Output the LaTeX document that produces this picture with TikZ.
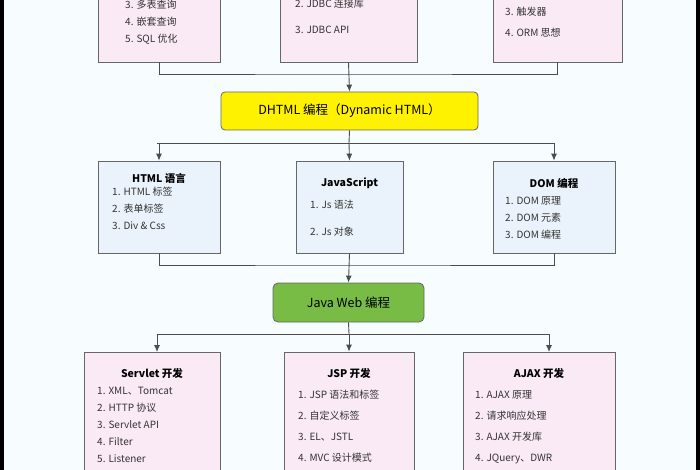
\documentclass[tikz,border=0pt]{standalone}
\usepackage{fontspec}
\setmainfont{Noto Sans CJK SC}
\usetikzlibrary{arrows.meta}
\definecolor{boxpink}{RGB}{250,234,246}
\definecolor{boxblue}{RGB}{234,243,251}
\definecolor{webgreen}{RGB}{120,188,70}
\tikzset{
  pinkbox/.style={rectangle, draw=black!60, fill=boxpink, line width=0.8pt},
  bluebox/.style={rectangle, draw=black!60, fill=boxblue, line width=0.8pt},
  items/.style={anchor=north west, align=left, font=\fontsize{10}{17}\selectfont, text=black!80, inner sep=0pt},
  head/.style={font=\fontsize{10.5}{12}\selectfont\bfseries, inner sep=0pt},
  link/.style={draw=black!70, line width=0.9pt},
  arr/.style={link, -{Latex[length=7pt,width=6pt]}}
}
\begin{document}
\begin{tikzpicture}[x=1pt, y=-1pt]
\useasboundingbox (0,0) rectangle (700,470);
\fill[cyan!3!white] (0,0) rectangle (700,470);
\fill[black] (0,0) rectangle (4,470);
\fill[black] (696,0) rectangle (700,470);
\begin{scope}
\clip (0,0) rectangle (700,470);
% top row
\node (tl)[pinkbox, minimum width=122pt, minimum height=110pt] at (159,7) {};
\node (tm)[pinkbox, minimum width=137pt, minimum height=110pt] at (348.5,7) {};
\node (tr)[pinkbox, minimum width=129pt, minimum height=110pt] at (557.5,7) {};
\node (tlt)[items] at (125,0) {3. 多表查询\\4. 嵌套查询\\5. SQL 优化};
\node (tmt)[items, font=\fontsize{10}{26}\selectfont] at (295,-1) {2. JDBC 连接库\\3. JDBC API};
\node (trt)[items, font=\fontsize{10}{21}\selectfont] at (505,-14) {2. 存储过程\\3. 触发器\\4. ORM 思想};
\coordinate (j1) at (349,74);
\draw[link] (tl.south) |- (j1) -| (tr.south);
\node (dh)[rectangle, rounded corners=4pt, draw=black!60, fill=yellow, line width=0.8pt,
  minimum width=257pt, minimum height=38pt, font=\fontsize{12.5}{14}\selectfont] at (349.5,111) {DHTML 编程（Dynamic HTML）};
\draw[arr] (tm.south) -- (dh.north);
% middle row
\node (ml)[bluebox, minimum width=122pt, minimum height=92pt] at (159,207) {};
\node (mm)[bluebox, minimum width=107pt, minimum height=92pt] at (349.5,207) {};
\node (mr)[bluebox, minimum width=122pt, minimum height=92pt] at (554,207) {};
\node (mlh)[head] at (159,178) {HTML 语言};
\node (mmh)[head] at (349.5,183) {JavaScript};
\node (mrh)[head] at (554,183) {DOM 编程};
\node (mlt)[items] at (112,187) {1. HTML 标签\\2. 表单标签\\3. Div \& Css};
\node (mmt)[items, font=\fontsize{10}{27}\selectfont] at (310,200) {1. Js 语法\\2. Js 对象};
\node (mrt)[items] at (505,196) {1. DOM 原理\\2. DOM 元素\\3. DOM 编程};
\coordinate (j2) at (349,143);
\draw[link] (dh.south) -- (j2);
\draw[link] (157,143) -- (549,143);
\draw[arr] (j2) -| (ml.north);
\draw[arr] (j2) -- (mm.north);
\draw[arr] (j2) -| (mr.north);
\coordinate (j3) at (349,265);
\draw[link] (ml.south) |- (j3) -| (mr.south);
\node (jw)[rectangle, rounded corners=5pt, draw=black!60, fill=webgreen, line width=0.8pt,
  minimum width=151pt, minimum height=39pt, font=\fontsize{12.5}{14}\selectfont] at (348.5,302.5) {Java Web 编程};
\draw[arr] (mm.south) -- (jw.north);
% bottom row
\coordinate (j4) at (349,334);
\draw[link] (jw.south) -- (j4);
\draw[link] (157,334) -- (549,334);
\node (bl)[pinkbox, minimum width=136pt, minimum height=140pt] at (152,422) {};
\node (bm)[pinkbox, minimum width=130pt, minimum height=140pt] at (349,422) {};
\node (br)[pinkbox, minimum width=152pt, minimum height=140pt] at (539,422) {};
\draw[arr] (j4) -| (157,352);
\draw[arr] (j4) -- (bm.north);
\draw[arr] (j4) -| (549,352);
\node (blh)[head] at (152,373) {Servlet 开发};
\node (bmh)[head] at (349,373) {JSP 开发};
\node (brh)[head] at (539,373) {AJAX 开发};
\node (blt)[items] at (97,387) {1. XML、Tomcat\\2. HTTP 协议\\3. Servlet API\\4. Filter\\5. Listener};
\node (bmt)[items, font=\fontsize{10}{21}\selectfont] at (298,390) {1. JSP 语法和标签\\2. 自定义标签\\3. EL、JSTL\\4. MVC 设计模式};
\node (brt)[items, font=\fontsize{10}{21}\selectfont] at (475,390) {1. AJAX 原理\\2. 请求响应处理\\3. AJAX 开发库\\4. JQuery、DWR};
\end{scope}
\end{tikzpicture}
\end{document}
